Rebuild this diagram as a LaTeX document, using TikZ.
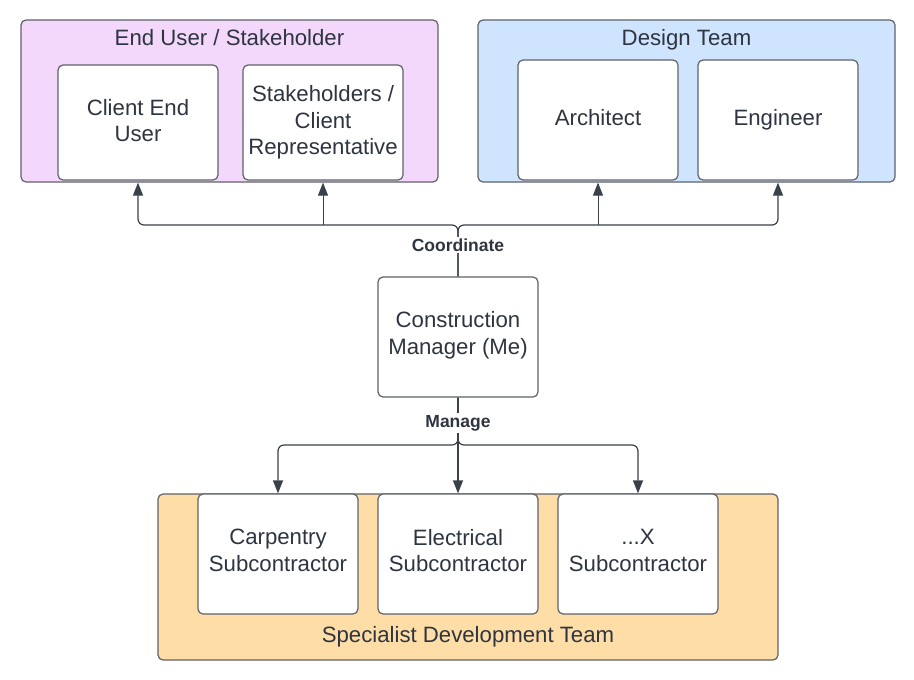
\documentclass[tikz,border=0pt]{standalone}
\usepackage{fontspec}
\setmainfont{Liberation Sans}
\usetikzlibrary{arrows.meta}
\definecolor{purp}{HTML}{F3D8FC}
\definecolor{bluec}{HTML}{CFE4FF}
\definecolor{orng}{HTML}{FEDDA6}
\definecolor{edge}{HTML}{5F6368}
\definecolor{txt}{HTML}{2F3540}
\definecolor{linec}{HTML}{3A414A}
\tikzset{
  cont/.style={draw=edge, line width=1.2pt, rounded corners=5pt, inner sep=0pt, anchor=center},
  inbox/.style={draw=edge, fill=white, line width=1.2pt, rounded corners=5pt, minimum width=160pt, inner sep=0pt},
  btxt/.style={align=center, text=txt, font=\fontsize{22.2}{26.5}\selectfont, inner sep=0pt},
  ttl/.style={text=txt, font=\fontsize{22.2}{26.5}\selectfont, inner sep=0pt},
  lbl/.style={fill=white, text=txt, font=\bfseries\fontsize{17.5}{20}\selectfont, inner sep=2pt},
  arr/.style={draw=linec, line width=1.2pt, rounded corners=6pt, -{Triangle[width=10pt,length=13pt]}},
  thin arr/.style={arr, line width=0.9pt},
}
\begin{document}
\begin{tikzpicture}[x=1pt,y=-1pt]
\useasboundingbox (0,0) rectangle (914,680);
\fill[white] (0,0) rectangle (914,680);
% containers
\node[cont, fill=purp, minimum width=417pt, minimum height=162pt] (eu) at (229.5,101) {};
\node[cont, fill=bluec, minimum width=417pt, minimum height=162pt] (dt) at (686.5,101) {};
\node[cont, fill=orng, minimum width=620pt, minimum height=166pt] (sd) at (468,577) {};
% titles
\node[ttl] (eut) at (229.5,38) {End User / Stakeholder};
\node[ttl] (dtt) at (686.5,39.5) {Design Team};
\node[ttl] (sdt) at (468,636.5) {Specialist Development Team};
% inner boxes
\node[inbox, minimum height=115pt] (client) at (138,122.5) {};
\node[inbox, minimum height=115pt] (stake) at (323,122.5) {};
\node[inbox, minimum height=120pt] (arch) at (598,120) {};
\node[inbox, minimum height=120pt] (eng) at (778,120) {};
\node[inbox, minimum height=120pt] (cm) at (458,337) {};
\node[inbox, minimum height=120pt] (carp) at (278,554) {};
\node[inbox, minimum height=120pt] (elec) at (458,554) {};
\node[inbox, minimum height=120pt] (xs) at (638,554) {};
% box texts
\node[btxt] (clientT) at ([yshift=2pt]client.center) {Client End\\User};
\node[btxt] (stakeT) at (stake.center) {Stakeholders /\\Client\\Representative};
\node[btxt] (archT) at ([yshift=2pt]arch.center) {Architect};
\node[btxt] (engT) at ([yshift=0.5pt]eng.center) {Engineer};
\node[btxt] (cmT) at ([yshift=1.5pt]cm.center) {Construction\\Manager (Me)};
\node[btxt] (carpT) at ([yshift=3.5pt]carp.center) {Carpentry\\Subcontractor};
\node[btxt] (elecT) at ([yshift=3.5pt]elec.center) {Electrical\\Subcontractor};
\node[btxt] (xsT) at ([yshift=3.5pt]xs.center) {...X\\Subcontractor};
% bus points
\coordinate (bt) at (458,225);
\coordinate (bb) at (458,445);
% top connectors
\draw[arr] (cm.north) -- (bt) -| (client.south |- eu.south);
\draw[arr] (cm.north) -- (bt) -| (eng.south |- dt.south);
\draw[thin arr] (stake.south |- bt) -- (stake.south |- eu.south);
\draw[thin arr] (arch.south |- bt) -- (arch.south |- dt.south);
% bottom connectors
\draw[arr] (cm.south) -- (bb) -| (carp.north |- sd.north);
\draw[arr] (cm.south) -- (bb) -| (xs.north |- sd.north);
\draw[arr] (cm.south) -- (elec.north);
% labels
\node[lbl] (coordl) at (458,245) {Coordinate};
\node[lbl] (managel) at (458,423) {Manage};
\end{tikzpicture}
\end{document}
